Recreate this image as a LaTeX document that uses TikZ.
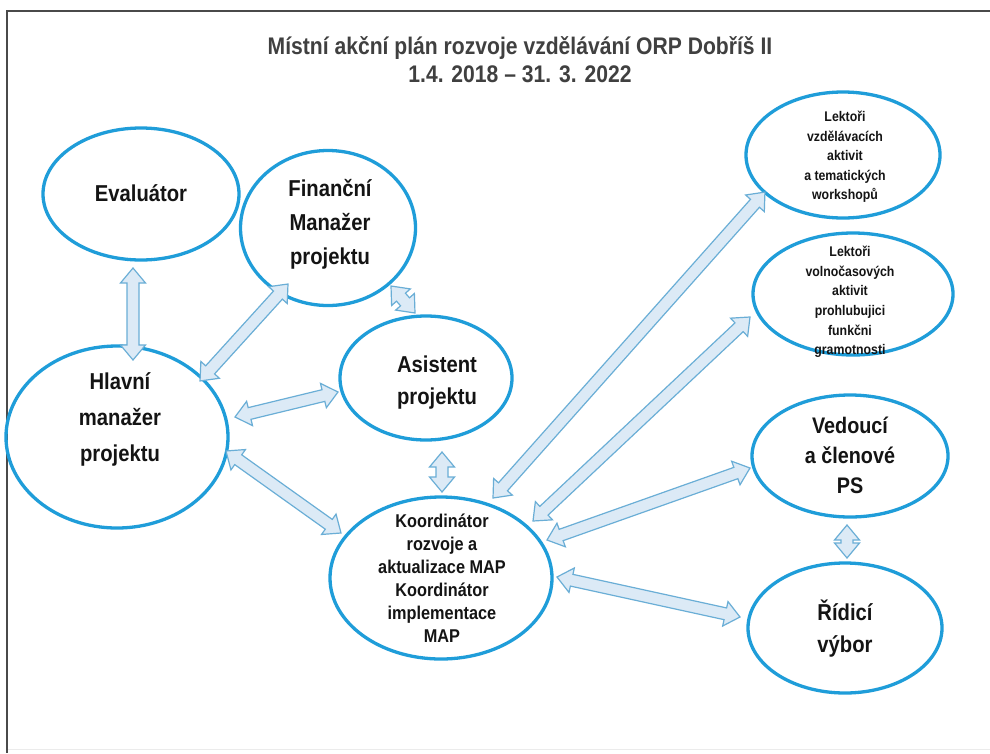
\documentclass[tikz,border=0pt]{standalone}
\usepackage{fontspec}
\setmainfont{Liberation Sans}
\newfontfamily\narrowf[FakeStretch=0.88]{Liberation Sans}
\usetikzlibrary{shapes.geometric,calc}
\definecolor{ellblue}{HTML}{1F9DD9}
\definecolor{arrline}{HTML}{6AAED6}
\definecolor{arrfill}{HTML}{DCEAF6}
\definecolor{txt}{HTML}{141414}
\definecolor{ttl}{HTML}{404040}
\definecolor{framec}{HTML}{4A4A4A}
\tikzset{
  oval/.style={ellipse, draw=ellblue, line width=3.3pt, inner sep=0pt},
  lbl/.style={align=center, text=txt, inner sep=0pt},
  arrowst/.style={draw=arrline, fill=arrfill, line width=1.2pt, line join=miter},
}
\newcommand\hL{15}
\newcommand\hW{12.5}
\newcommand\sW{6}
\newcommand\barrow[2]{%
  \path let \p1=(#1), \p2=(#2) in coordinate (ba) at (\p1)
    \pgfextra{\pgfmathsetmacro\tA{atan2(\y2-\y1,\x2-\x1)}\global\let\bAng\tA
              \pgfmathsetmacro\tL{veclen(\x2-\x1,\y2-\y1)}\global\let\bLen\tL};
  \draw[arrowst, shift={(ba)}, rotate=\bAng]
    (0,0) -- (\hL,\hW) -- (\hL,\sW) -- ({\bLen-\hL},\sW) -- ({\bLen-\hL},\hW) -- (\bLen,0)
    -- ({\bLen-\hL},-\hW) -- ({\bLen-\hL},-\sW) -- (\hL,-\sW) -- (\hL,-\hW) -- cycle;
}
\begin{document}
\begin{tikzpicture}[x=1pt,y=-1pt]
\useasboundingbox (0,0) rectangle (990,753);
\fill[white] (0,0) rectangle (990,753);
% frame
\draw[framec, line width=2.2pt] (990,11) -- (7,11) -- (7,753);
\draw[black!8, line width=1pt] (8,749) -- (990,749);
% title
\node[align=center, text=ttl, font=\narrowf\bfseries\fontsize{24}{28}\selectfont, inner sep=0pt] (title) at (520,60)
  {Místní akční plán rozvoje vzdělávání ORP Dobříš II\\1.4. 2018 – 31. 3. 2022};
% ellipses
\node[oval, minimum width=196pt, minimum height=132pt] (eval) at (141,194) {};
\node[oval, minimum width=175pt, minimum height=155pt] (fin) at (328,228) {};
\node[oval, minimum width=172pt, minimum height=124pt] (asist) at (426,378) {};
\node[oval, minimum width=222pt, minimum height=182pt] (hlav) at (117,437) {};
\node[oval, minimum width=222pt, minimum height=162pt] (koord) at (441,578) {};
\node[oval, minimum width=194pt, minimum height=126pt] (lekt1) at (843,155) {};
\node[oval, minimum width=200pt, minimum height=122pt] (lekt2) at (853,294) {};
\node[oval, minimum width=196pt, minimum height=122pt] (ved) at (850,456) {};
\node[oval, minimum width=194pt, minimum height=130pt] (ridi) at (845,628) {};
% texts
\begin{scope}[every node/.style={lbl}]
\node[font=\narrowf\bfseries\fontsize{23}{34}\selectfont] (evalt) at (141,193) {Evaluátor};
\node[font=\narrowf\bfseries\fontsize{23}{34}\selectfont] (fint) at (330,224) {Finanční\\Manažer\\projektu};
\node[font=\narrowf\bfseries\fontsize{23}{32}\selectfont] (asistt) at (437,383) {Asistent\\projektu};
\node[font=\narrowf\bfseries\fontsize{23}{36}\selectfont] (hlavt) at (120,419) {Hlavní\\manažer\\projektu};
\node[font=\narrowf\bfseries\fontsize{18.5}{23}\selectfont] (koordt) at (442,578) {Koordinátor\\rozvoje a\\aktualizace MAP\\Koordinátor\\implementace\\MAP};
\node[font=\narrowf\bfseries\fontsize{14}{19.4}\selectfont] (lekt1t) at (845,157) {Lektoři\\vzdělávacích\\aktivit\\a tematických\\workshopů};
\node[font=\narrowf\bfseries\fontsize{14}{19.6}\selectfont] (lekt2t) at (850,302) {Lektoři\\volnočasových\\aktivit\\prohlubujici\\funkčni\\gramotnosti};
\node[font=\narrowf\bfseries\fontsize{22.5}{30}\selectfont] (vedt) at (850,455) {Vedoucí\\a členové\\PS};
\node[font=\narrowf\bfseries\fontsize{23}{32}\selectfont] (ridit) at (845,629) {Řídicí\\výbor};
\end{scope}
% arrows
\barrow{$(eval)+(-8,74)$}{$(hlav)+(16,-77)$}
\barrow{$(fin)+(-40,56)$}{$(hlav)+(83,-56)$}
\barrow{$(fin)+(63,58)$}{$(asist)+(-11,-65)$}
\barrow{$(hlav)+(118,-20)$}{$(asist)+(-88,14)$}
\barrow{$(asist)+(16,74)$}{$(koord)+(1,-86)$}
\barrow{$(hlav)+(109,14)$}{$(koord)+(-100,-45)$}
\barrow{$(koord)+(52,-80)$}{$(lekt1)+(-78,37)$}
\barrow{$(koord)+(92,-57)$}{$(lekt2)+(-103,23)$}
\barrow{$(koord)+(106,-38)$}{$(ved)+(-100,12)$}
\barrow{$(koord)+(116,-1)$}{$(ridi)+(-105,-11)$}
\barrow{$(ved)+(-3,69)$}{$(ridi)+(2,-70)$}
\end{tikzpicture}
\end{document}
